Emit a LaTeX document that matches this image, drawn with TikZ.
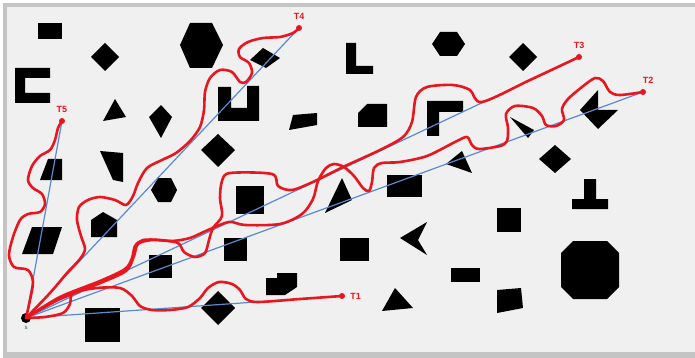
\documentclass[tikz,border=0pt]{standalone}
\usepackage{fontspec}
\setsansfont{Liberation Sans}
\usetikzlibrary{positioning}
\definecolor{routecol}{RGB}{232,22,30}
\definecolor{raycol}{RGB}{88,138,210}
\definecolor{bggray}{RGB}{240,240,240}
\definecolor{framegray}{RGB}{196,196,196}
\tikzset{
  obstacle/.style={fill=black},
  ray/.style={draw=raycol, line width=1.2pt},
  route/.style={draw=routecol, line width=2.6pt, line join=round, line cap=round},
  goal/.style={circle, fill=routecol, inner sep=0pt, minimum size=6pt},
  goallabel/.style={text=routecol, font=\sffamily\bfseries\fontsize{9}{10}\selectfont, inner sep=1pt},
  source/.style={circle, fill=black, inner sep=0pt, minimum size=10pt},
}

\begin{document}
\begin{tikzpicture}[x=1pt, y=-1pt]
  \useasboundingbox (0,0) rectangle (695,358);
  % Frame
  \fill[white] (0,0) rectangle (695,358);
  \fill[framegray] (3,3) rectangle (695,358);
  \fill[bggray] (7,7) rectangle (695,352);

  % Obstacles
  \fill[obstacle] (38,23) rectangle (62,39);
  \fill[obstacle] (105,43) -- (119,57) -- (105,71) -- (91,57) -- cycle;
  \fill[obstacle] (180,45) -- (190,23) -- (212,23) -- (223,45) -- (212,68) -- (190,68) -- cycle;
  \fill[obstacle] (15,68) -- (50,68) -- (50,78) -- (25,78) -- (25,93) -- (50,93) -- (50,103) -- (15,103) -- cycle;
  \fill[obstacle] (115,99) -- (126,117) -- (103,121) -- cycle;
  \fill[obstacle] (161,105) -- (172,117) -- (161,138) -- (149,117) -- cycle;
  \fill[obstacle] (218,134) -- (235,150) -- (218,167) -- (201,150) -- cycle;
  \fill[obstacle] (100,151) -- (123,153) -- (123,182) -- (113,180) -- cycle;
  \fill[obstacle] (48,159) -- (62,159) -- (62,180) -- (40,180) -- cycle;
  \fill[obstacle] (32,227) -- (62,227) -- (53,254) -- (22,254) -- cycle;
  \fill[obstacle] (103,212) -- (117,220) -- (117,237) -- (91,237) -- (91,220) -- cycle;
  \fill[obstacle] (158,178) -- (171,178) -- (177,190) -- (171,202) -- (158,202) -- (151,190) -- cycle;
  \fill[obstacle] (149,255) rectangle (172,278);
  \fill[obstacle] (85,308) rectangle (120,342);
  \fill[obstacle] (218,291) -- (235,308) -- (218,325) -- (201,308) -- cycle;
  \fill[obstacle] (224,238) rectangle (247,261);
  \fill[obstacle] (236,186) rectangle (264,214);
  \fill[obstacle] (218,87) -- (231,87) -- (231,108) -- (247,108) -- (247,86) -- (259,86) -- (259,121) -- (218,121) -- cycle;
  \fill[obstacle] (293,115) -- (317,113) -- (317,125) -- (289,130) -- cycle;
  \fill[obstacle] (250,60) -- (263,48) -- (280,58) -- (266,68) -- cycle;
  \fill[obstacle] (346,43) -- (356,43) -- (356,66) -- (373,66) -- (373,74) -- (346,74) -- cycle;
  \fill[obstacle] (432,44) -- (440,32) -- (457,32) -- (465,44) -- (457,56) -- (440,56) -- cycle;
  \fill[obstacle] (367,104) -- (387,104) -- (387,127) -- (358,127) -- (358,113) -- cycle;
  \fill[obstacle] (427,101) -- (463,101) -- (463,112) -- (439,112) -- (439,136) -- (427,136) -- cycle;
  \fill[obstacle] (523,43) -- (537,57) -- (523,71) -- (509,57) -- cycle;
  \fill[obstacle] (580,110) -- (598,90) -- (598,110) -- (618,110) -- (598,129) -- cycle;
  \fill[obstacle] (510,117) -- (534,130) -- (528,138) -- cycle;
  \fill[obstacle] (555,145) -- (571,159) -- (555,173) -- (539,159) -- cycle;
  \fill[obstacle] (462,151) -- (472,173) -- (446,164) -- cycle;
  \fill[obstacle] (342,178) -- (352,200) -- (325,213) -- cycle;
  \fill[obstacle] (387,175) rectangle (422,197);
  \fill[obstacle] (497,208) rectangle (521,232);
  \fill[obstacle] (400,238) -- (427,222) -- (418,240) -- (427,255) -- cycle;
  \fill[obstacle] (340,238) rectangle (369,261);
  \fill[obstacle] (266,278) -- (277,278) -- (277,273) -- (297,273) -- (297,287) -- (285,295) -- (266,295) -- cycle;
  \fill[obstacle] (395,288) -- (413,308) -- (382,311) -- cycle;
  \fill[obstacle] (451,268) rectangle (480,282);
  \fill[obstacle] (584,179) -- (596,179) -- (596,199) -- (608,199) -- (608,209) -- (572,209) -- (572,199) -- (584,199) -- cycle;
  \fill[obstacle] (573,241) -- (607,241) -- (619,253) -- (619,287) -- (607,299) -- (573,299) -- (561,287) -- (561,253) -- cycle;
  \fill[obstacle] (497,290) -- (521,288) -- (523,308) -- (497,313) -- cycle;

  % Source and targets
  \node[source] (s) at (26,318) {};
  \node[goal] (t1) at (342,296) {};
  \node[goal] (t2) at (643,92) {};
  \node[goal] (t3) at (579,57) {};
  \node[goal] (t4) at (299,28) {};
  \node[goal] (t5) at (62,121) {};

  % Straight rays
  \foreach \t in {t1,t2,t3,t4,t5}
    \draw[ray] (s.center) -- (\t.center);

  % Routes
  \draw[route] plot[smooth] coordinates {(s.center) (30,300) (33,282) (28,270) (14,267) (9,255) (13,237) (20,220) (28,214) (40,212) (45,204) (42,194) (33,188) (28,180) (32,166) (40,156) (50,150) (55,140) (58,128) (t5.center)};
  \draw[route] plot[smooth] coordinates {(s.center) (50,293) (67,273) (80,259) (85,249) (81,236) (77,220) (79,207) (88,200) (100,197) (115,200) (126,205) (133,196) (138,183) (147,168) (162,160) (176,153) (190,141) (200,127) (204,110) (205,92) (210,78) (220,70) (232,72) (240,82) (246,82) (252,73) (249,63) (240,57) (239,49) (248,42) (263,38) (280,37) (293,33) (t4.center)};
  \draw[route] plot[smooth] coordinates {(s.center) (60,297) (100,281) (125,269) (132,258) (135,246) (143,240) (160,240) (178,243) (184,252) (195,257) (205,253) (209,240) (213,228) (222,216) (220,198) (222,181) (230,173) (272,174) (278,186) (292,190) (315,181) (343,167) (380,150) (403,137) (412,122) (416,97) (427,87) (453,85) (470,90) (482,102) (530,80) (t3.center)};
  \draw[route] plot[smooth] coordinates {(s.center) (58,300) (98,284) (126,271) (134,256) (138,244) (152,240) (172,241) (190,238) (208,230) (229,222) (245,225) (280,224) (302,214) (313,199) (318,181) (326,168) (334,164) (344,167) (354,176) (363,188) (369,191) (372,182) (374,168) (382,163) (400,162) (427,156) (455,142) (467,137) (472,145) (479,149) (500,146) (507,141) (508,128) (506,114) (515,106) (533,108) (542,116) (546,125) (556,126) (564,120) (562,109) (568,99) (582,87) (595,78) (603,81) (610,92) (620,95) (t2.center)};
  \draw[route] plot[smooth] coordinates {(s.center) (45,317) (63,313) (70,304) (73,293) (97,288) (120,288) (132,296) (140,306) (152,310) (170,310) (188,307) (200,298) (208,288) (219,282) (232,284) (240,290) (246,299) (258,302) (300,299) (t1.center)};

  % Labels
  \node[goallabel, right=4pt of t1] (t1lab) {T1};
  \node[goallabel, above=4pt of t2, xshift=5pt] (t2lab) {T2};
  \node[goallabel, above=4pt of t3] (t3lab) {T3};
  \node[goallabel, above=4pt of t4] (t4lab) {T4};
  \node[goallabel, above=4pt of t5] (t5lab) {T5};
  \node[below=3pt of s, font=\sffamily\fontsize{6}{7}\selectfont, text=black!70, inner sep=0pt] (slab) {s};
\end{tikzpicture}
\end{document}
